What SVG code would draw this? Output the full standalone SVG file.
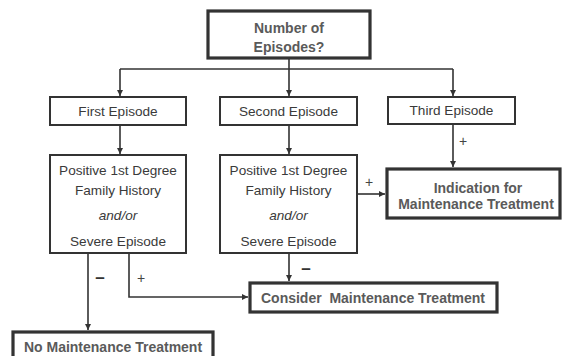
<svg xmlns="http://www.w3.org/2000/svg" width="563" height="356" viewBox="0 0 563 356">
<style>
  .thin{fill:#fff;stroke:#333;stroke-width:2}
  .thick{fill:#fff;stroke:#333;stroke-width:3.2}
  .t{font-family:"Liberation Sans",Arial,sans-serif;font-size:13.6px;fill:#3a3a3a;text-anchor:middle}
  .b{font-family:"Liberation Sans",Arial,sans-serif;font-size:14px;font-weight:bold;fill:#5a5a5a;text-anchor:middle;white-space:pre}
  .i{font-style:italic}
  .c{fill:none;stroke:#333;stroke-width:1.6}
  .s{font-family:"Liberation Sans",Arial,sans-serif;font-size:14px;fill:#444;text-anchor:middle}
  .m{font-family:"Liberation Sans",Arial,sans-serif;font-size:17px;font-weight:bold;fill:#333;text-anchor:middle}
</style>
<defs>
  <marker id="ah" markerUnits="userSpaceOnUse" markerWidth="8" markerHeight="8" refX="6" refY="3.5" orient="auto">
    <path d="M0,0.5 L6,3.5 L0,6.5 Z" fill="#333"/>
  </marker>
</defs>
<rect width="563" height="356" fill="#fff"/>
<g id="connectors">
  <line class="c" x1="289" y1="58" x2="289" y2="69"/>
  <line class="c" x1="120" y1="69" x2="453" y2="69"/>
  <line class="c" x1="120" y1="69" x2="120" y2="96" marker-end="url(#ah)"/>
  <line class="c" x1="289" y1="69" x2="289" y2="96" marker-end="url(#ah)"/>
  <line class="c" x1="453" y1="69" x2="453" y2="96" marker-end="url(#ah)"/>
  <line class="c" x1="120" y1="125" x2="120" y2="154" marker-end="url(#ah)"/>
  <line class="c" x1="289" y1="125" x2="289" y2="154" marker-end="url(#ah)"/>
  <line class="c" x1="453" y1="124" x2="453" y2="167" marker-end="url(#ah)"/>
  <text class="s" x="463" y="146">+</text>
  <line class="c" x1="357" y1="194" x2="385" y2="194" marker-end="url(#ah)"/>
  <text class="s" x="369" y="187">+</text>
  <line class="c" x1="289" y1="253" x2="289" y2="281" marker-end="url(#ah)"/>
  <text class="m" x="306" y="274">–</text>
  <polyline class="c" points="129,253 129,297 248,297" marker-end="url(#ah)"/>
  <text class="s" x="141" y="283">+</text>
  <line class="c" x1="88" y1="253" x2="88" y2="330" marker-end="url(#ah)"/>
  <text class="m" x="100" y="283">–</text>
</g>
<g id="n-number">
  <rect class="thick" x="208" y="11" width="162" height="47"/>
  <text class="b" x="289" y="33">Number of</text>
  <text class="b" x="289" y="52">Episodes?</text>
</g>
<g id="n-first">
  <rect class="thin" x="50" y="97" width="136" height="28"/>
  <text class="t" x="118" y="116">First Episode</text>
</g>
<g id="n-second">
  <rect class="thin" x="220" y="97" width="137" height="28"/>
  <text class="t" x="288.5" y="116">Second Episode</text>
</g>
<g id="n-third">
  <rect class="thin" x="388" y="97" width="127" height="27"/>
  <text class="t" x="451.5" y="115">Third Episode</text>
</g>
<g id="n-hist1">
  <rect class="thin" x="50" y="155" width="136" height="98"/>
  <text class="t" x="118" y="175">Positive 1st Degree</text>
  <text class="t" x="118" y="195">Family History</text>
  <text class="t i" x="118" y="220">and/or</text>
  <text class="t" x="118" y="246">Severe Episode</text>
</g>
<g id="n-hist2">
  <rect class="thin" x="220" y="155" width="137" height="98"/>
  <text class="t" x="288.5" y="175">Positive 1st Degree</text>
  <text class="t" x="288.5" y="195">Family History</text>
  <text class="t i" x="288.5" y="220">and/or</text>
  <text class="t" x="288.5" y="246">Severe Episode</text>
</g>
<g id="n-indication">
  <rect class="thick" x="387" y="169" width="173" height="49"/>
  <text class="b" x="478" y="193">Indication for</text>
  <text class="b" x="476" y="209" font-size="13.6">Maintenance Treatment</text>
</g>
<g id="n-consider">
  <rect class="thick" x="250" y="283" width="247" height="29"/>
  <text class="b" x="373" y="303" xml:space="preserve">Consider  Maintenance Treatment</text>
</g>
<g id="n-none">
  <rect class="thick" x="13" y="332" width="200" height="30"/>
  <text class="b" x="113" y="352">No Maintenance Treatment</text>
</g>
</svg>
